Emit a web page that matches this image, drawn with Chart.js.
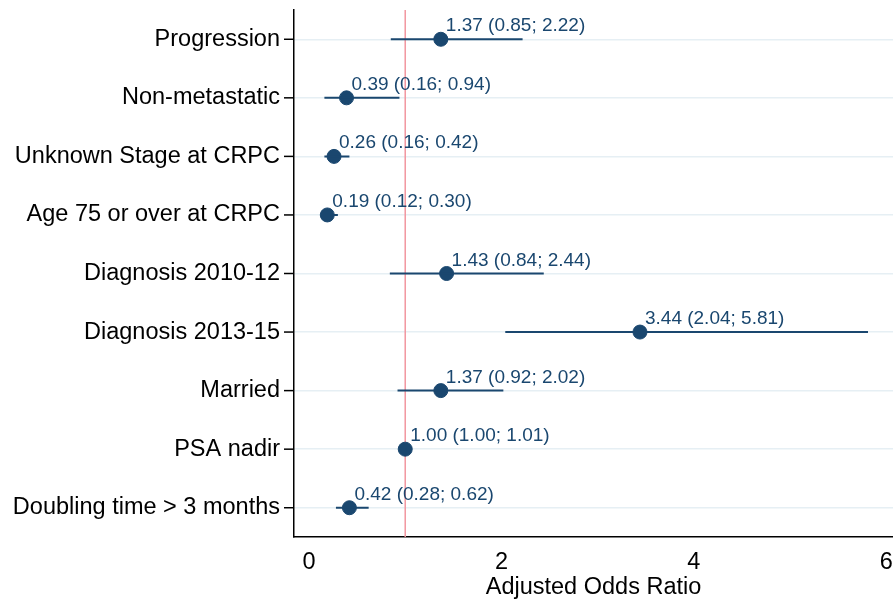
<!DOCTYPE html>
<html>
<head>
<meta charset="utf-8">
<script src="https://cdn.jsdelivr.net/npm/chart.js@4"></script>
<style>
  html, body { margin: 0; padding: 0; background: #fff; }
  #caja { width: 893px; height: 600px; }
</style>
</head>
<body>
<div id="caja"><canvas id="myChart"></canvas></div>
<script>
// datos
const categorias = ['Progression', 'Non-metastatic', 'Unknown Stage at CRPC', 'Age 75 or over at CRPC',
    'Diagnosis 2010-12', 'Diagnosis 2013-15', 'Married', 'PSA nadir', 'Doubling time > 3 months']
const odds = [1.37, 0.39, 0.26, 0.19, 1.43, 3.44, 1.37, 1.00, 0.42]
const inferior = [0.85, 0.16, 0.16, 0.12, 0.84, 2.04, 0.92, 1.00, 0.28]
const superior = [2.22, 0.94, 0.42, 0.30, 2.44, 5.81, 2.02, 1.01, 0.62]
const ticksX = [0, 2, 4, 6]
const valorReferencia = 1

const azul = '#1a476f'
const fuente = '"Liberation Sans", Arial, sans-serif'

let puntos = []
let intervalos = []
for (let i in categorias) {
    puntos.push({ x: odds[i], y: categorias[i] })
    intervalos.push({ x: inferior[i], y: categorias[i] })
    intervalos.push({ x: superior[i], y: categorias[i] })
    intervalos.push({ x: NaN, y: categorias[i] })
}

function fmt(v) {
    return v.toFixed(2)
}

// linea vertical en OR = 1
const lineaReferencia = {
    id: 'lineaReferencia',
    beforeDatasetsDraw(chart) {
        const ctx = chart.ctx
        const area = chart.chartArea
        const x = chart.scales.x.getPixelForValue(valorReferencia)
        ctx.save()
        ctx.strokeStyle = '#f2969f'
        ctx.lineWidth = 1.5
        ctx.beginPath()
        ctx.moveTo(x, area.top)
        ctx.lineTo(x, area.bottom)
        ctx.stroke()
        ctx.restore()
    }
}

// etiquetas "OR (IC)" sobre cada punto
const etiquetas = {
    id: 'etiquetas',
    afterDatasetsDraw(chart) {
        const ctx = chart.ctx
        const meta = chart.getDatasetMeta(1)
        ctx.save()
        ctx.fillStyle = azul
        ctx.font = '19px ' + fuente
        ctx.textAlign = 'left'
        ctx.textBaseline = 'alphabetic'
        meta.data.forEach((p, i) => {
            const texto = `${fmt(odds[i])} (${fmt(inferior[i])}; ${fmt(superior[i])})`
            ctx.fillText(texto, p.x + 5, p.y - 8)
        })
        ctx.restore()
    }
}

const data = {
    datasets: [{
        label: 'IC 95%',
        data: intervalos,
        showLine: true,
        spanGaps: false,
        borderColor: azul,
        borderWidth: 2,
        pointRadius: 0,
        pointHoverRadius: 0
    }, {
        label: 'OR',
        data: puntos,
        backgroundColor: azul,
        borderColor: azul,
        pointRadius: 7,
        pointHoverRadius: 7
    }]
}

const config = {
    type: 'scatter',
    data: data,
    options: {
        responsive: true,
        maintainAspectRatio: false,
        animation: false,
        layout: { autoPadding: false, padding: { top: 10, right: 0, bottom: 0, left: 0 } },
        plugins: {
            legend: { display: false },
            tooltip: { enabled: false }
        },
        scales: {
            x: {
                type: 'linear',
                min: -0.156,
                max: 6.07,
                afterBuildTicks: (axis) => { axis.ticks = ticksX.map(v => ({ value: v })) },
                afterFit: (axis) => {
                    axis.height = 63
                    axis.paddingLeft = 0
                    axis.paddingRight = 0
                },
                grid: { display: false, drawTicks: true, tickLength: 8, tickColor: '#000' },
                border: { color: '#000', width: 1.5 },
                ticks: {
                    color: '#000',
                    padding: 3,
                    font: { family: fuente, size: 23.5 }
                },
                title: {
                    display: true,
                    text: 'Adjusted Odds Ratio',
                    color: '#000',
                    padding: { top: 0, bottom: 1 },
                    font: { family: fuente, size: 23.5, lineHeight: 1 }
                }
            },
            y: {
                type: 'category',
                labels: categorias,
                offset: true,
                afterFit: (axis) => {
                    axis.width = 294
                    axis.paddingTop = 0
                    axis.paddingBottom = 0
                },
                grid: {
                    color: '#e6eff4',
                    lineWidth: 1.5,
                    offset: false,
                    drawTicks: false
                },
                border: { color: '#000', width: 1.5 },
                ticks: {
                    color: '#000',
                    padding: 14,
                    font: { family: fuente, size: 23.5 }
                }
            }
        }
    },
    plugins: [lineaReferencia, etiquetas, {
        id: 'marcasY',
        afterDraw(chart) {
            // marcas cortas del eje y
            const y = chart.scales.y
            const ctx = chart.ctx
            ctx.save()
            ctx.strokeStyle = '#000'
            ctx.lineWidth = 1.5
            y.ticks.forEach((t, i) => {
                const py = y.getPixelForTick(i)
                ctx.beginPath()
                ctx.moveTo(y.right - 10, py)
                ctx.lineTo(y.right, py)
                ctx.stroke()
            })
            ctx.restore()
        }
    }]
}

const myChart = new Chart(document.getElementById('myChart'), config)
</script>
</body>
</html>
